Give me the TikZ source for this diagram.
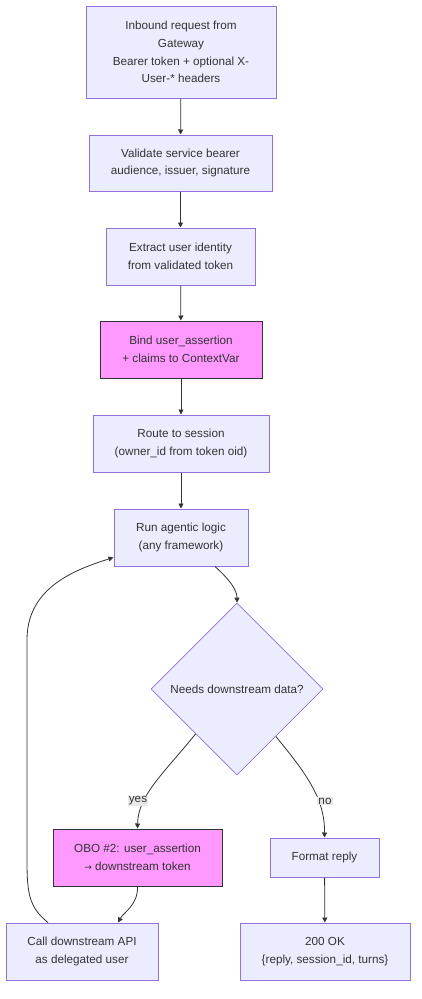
\documentclass[tikz,border=0pt]{standalone}
\usepackage{fontspec}
\setmainfont{Liberation Sans}
\usetikzlibrary{shapes.geometric,arrows.meta,calc}
\definecolor{nodefill}{HTML}{ECECFF}
\definecolor{nodeline}{HTML}{9370DB}
\definecolor{pinkfill}{HTML}{FF99FF}
\definecolor{ink}{HTML}{333333}
\definecolor{lblbg}{HTML}{E8E8E8}
\tikzset{
  box/.style={draw=nodeline, fill=nodefill, line width=1pt, align=center, text=ink,
    font=\fontsize{11.7}{17.8}\selectfont, inner sep=0pt},
  hot/.style={box, draw=ink, fill=pinkfill},
  decision/.style={diamond, aspect=1, draw=nodeline, fill=nodefill, line width=0.7pt,
    text=ink, font=\fontsize{11.7}{17.8}\selectfont, minimum width=172pt, minimum height=172pt, inner sep=0pt},
  flow/.style={draw=ink, line width=0.8pt, -{Triangle[length=5pt,width=5pt]}},
  lbl/.style={fill=lblbg, text=ink, font=\fontsize{11.7}{13}\selectfont, inner sep=1pt}
}
\begin{document}
\begin{tikzpicture}[x=1pt,y=-1pt]
\useasboundingbox (0,0) rectangle (422,999);
\node[box, minimum width=190pt, minimum height=92pt] (inb) at (181,52)
  {Inbound request from\\Gateway\\Bearer token + optional X-\\User-* headers};
\node[box, minimum width=183pt, minimum height=56pt] (val) at (180.5,163)
  {Validate service bearer\\audience, issuer, signature};
\node[box, minimum width=149pt, minimum height=57pt] (ext) at (180.5,256.5)
  {Extract user identity\\from validated token};
\node[hot, minimum width=162pt, minimum height=57pt] (bind) at (181,349.5)
  {Bind user\_assertion\\+ claims to ContextVar};
\node[box, minimum width=176pt, minimum height=57pt] (route) at (181,443.5)
  {Route to session\\(owner\_id from token oid)};
\node[box, minimum width=134pt, minimum height=57pt] (run) at (181,537.5)
  {Run agentic logic\\(any framework)};
\node[decision] (dia) at (237,689) {Needs downstream data?};
\node[hot, minimum width=169pt, minimum height=57pt] (obo) at (137.5,857.5)
  {OBO \#2: user\_assertion\\{\fontspec{DejaVu Sans}\fontsize{9}{17.8}\selectfont →} downstream token};
\node[box, minimum width=109pt, minimum height=39pt] (fmt) at (324.5,857.5)
  {Format reply};
\node[box, minimum width=152pt, minimum height=57pt] (call) at (82,951.5)
  {Call downstream API\\as delegated user};
\node[box, minimum width=170pt, minimum height=57pt] (ok) at (325,951.5)
  {200 OK\\\{reply, session\_id, turns\}};

\draw[flow] (inb) -- (val);
\draw[flow] (val) -- (ext);
\draw[flow] (ext) -- (bind);
\draw[flow] (bind) -- (route);
\draw[flow] (route) -- (run);
\draw[flow] ([xshift=34pt]run.south) .. controls (230,580) and (237,590) .. (dia.north);
\coordinate (dl) at ($(dia.south)!0.48!(dia.west)$);
\coordinate (dr) at ($(dia.south)!0.45!(dia.east)$);
\draw[flow] (dl) .. controls (165,772) and (138,795) .. (obo.north);
\draw[flow] (dr) .. controls (305,772) and (325,798) .. (fmt.north);
\node[lbl] (yes) at (138,801) {yes};
\node[lbl] (no) at (325,801) {no};
\draw[flow] (obo.south) .. controls (138,905) and (124,912) .. ([xshift=36pt]call.north);
\draw[flow] ([xshift=-34pt]call.north) .. controls (30,908) and (27,895) .. (27,862)
  -- (27,640) .. controls (27,590) and (70,571) .. ([yshift=-20pt]run.west);
\draw[flow] (fmt) -- (ok);
\end{tikzpicture}
\end{document}
